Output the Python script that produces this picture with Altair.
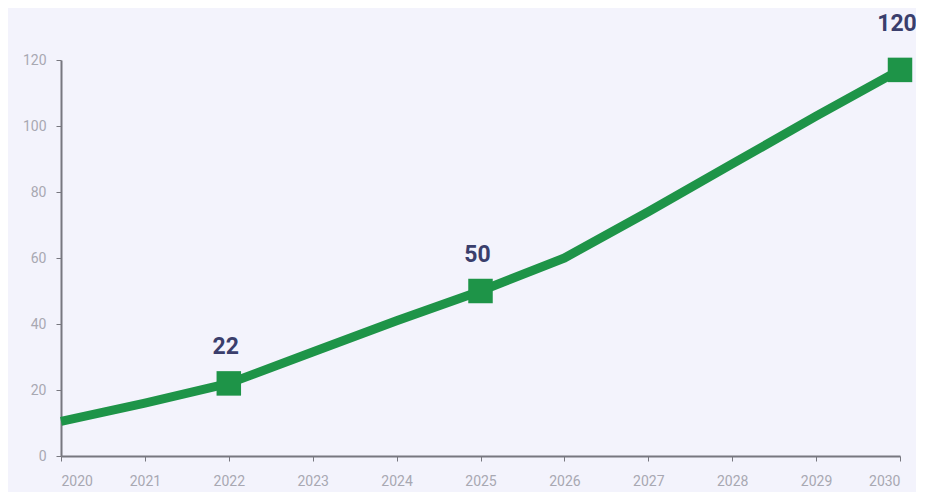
import altair as alt
import pandas as pd

years = [2020, 2021, 2022, 2023, 2024, 2025, 2026, 2027, 2028, 2029, 2030]
values = [10.5, 16, 22, 31.5, 41, 50, 60, 74, 88.5, 103, 117]

marker_years = [2022, 2025, 2030]
marker_values = [22, 50, 117]
marker_labels = ["22", "50", "120"]
label_numbers = [22, 50, 120]

df = pd.DataFrame({"year": years, "value": values})
mdf = pd.DataFrame({"year": marker_years, "value": marker_values,
                    "label": marker_labels, "num": label_numbers})

GREEN = "#1e9448"
x = alt.X("year:Q", scale=alt.Scale(domain=[2020, 2030], nice=False, zero=False),
          axis=alt.Axis(values=years, format="d", title=None, grid=False,
                        labelColor="#a8a8b2", labelFontSize=14, labelFont="Roboto",
                        domainColor="#77777f", domainWidth=2, tickColor="#77777f",
                        tickSize=5, labelPadding=13))
y = alt.Y("value:Q", scale=alt.Scale(domain=[0, 120], nice=False),
          axis=alt.Axis(values=[0, 20, 40, 60, 80, 100, 120], title=None, grid=False,
                        labelColor="#a8a8b2", labelFontSize=14, labelFont="Roboto",
                        domainColor="#77777f", domainWidth=2, tickColor="#77777f",
                        tickSize=5, labelPadding=10))

line = alt.Chart(df).mark_line(color=GREEN, strokeWidth=9, strokeJoin="round").encode(x=x, y=y)
pts = alt.Chart(mdf).mark_square(color=GREEN, size=600, opacity=1).encode(x="year:Q", y="value:Q")
txt = alt.Chart(mdf).transform_calculate(ly="datum.num + 11").mark_text(
    fontSize=23, fontWeight="bold", color="#3a3e6c", font="Roboto", baseline="middle", dx=-3
).encode(x="year:Q", y="ly:Q", text="label:N")

chart = (line + pts + txt).properties(
    width=839, height=396,
    autosize=alt.AutoSizeParams(type="none"),
    padding={"left": 53, "top": 52, "right": 16, "bottom": 36},
    background="#f3f3fc",
).configure_view(stroke=None)

chart.save("out.html", embed_options={"renderer": "svg", "actions": False})
